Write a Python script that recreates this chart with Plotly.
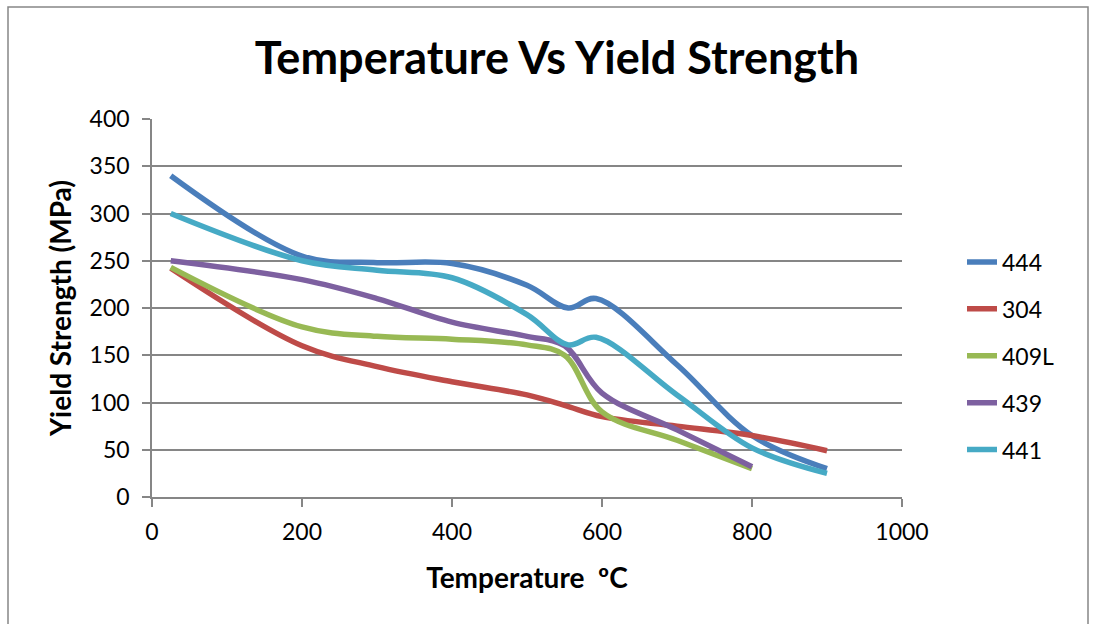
import plotly.graph_objects as go

# ---- data ----
t_444 = [25, 200, 300, 400, 500, 555, 592, 700, 800, 900]
v_444 = [340, 255, 248, 247, 224, 200, 210, 140, 65, 30]

t_304 = [25, 200, 300, 400, 500, 550, 600, 700, 800, 900]
v_304 = [242, 160, 138, 122, 108, 97, 85, 75, 65, 49]

t_409L = [25, 200, 300, 400, 500, 550, 600, 700, 800]
v_409L = [243, 180, 170, 167, 161, 150, 90, 60, 30]

t_439 = [25, 200, 300, 400, 500, 550, 600, 700, 800]
v_439 = [250, 230, 210, 185, 170, 160, 110, 71, 32]

t_441 = [25, 200, 300, 400, 500, 555, 592, 700, 800, 900]
v_441 = [300, 250, 240, 232, 193, 161, 169, 108, 52, 25]

series = [
    ("444", t_444, v_444, "#4A7EBB"),
    ("304", t_304, v_304, "#BE4B48"),
    ("409L", t_409L, v_409L, "#98B954"),
    ("439", t_439, v_439, "#7D60A0"),
    ("441", t_441, v_441, "#46AAC5"),
]

x_ticks = [0, 200, 400, 600, 800, 1000]
y_ticks = [0, 50, 100, 150, 200, 250, 300, 350, 400]

FONT = "Lato"
W, H = 1093, 624
L, R, T, B = 152, 191, 119, 127
pw, ph = W - L - R, H - T - B

fig = go.Figure()
for name, t, v, c in series:
    fig.add_trace(go.Scatter(
        x=t, y=v, name=name, mode="lines", legendgroup=name,
        line=dict(color=c, width=5.5, shape="spline", smoothing=1.0),
    ))

def px_x(p):
    return (p - L) / pw

def px_y(p):
    return (H - B - p) / ph

fig.update_layout(
    width=W, height=H,
    margin=dict(l=L, r=R, t=T, b=B),
    paper_bgcolor="white", plot_bgcolor="white",
    font=dict(family=FONT, size=23, color="black"),
    title=dict(text="<b>Temperature Vs Yield Strength</b>",
               font=dict(family=FONT, size=45, color="black"),
               x=px_x(557), xref="paper", xanchor="center",
               y=1 - 58 / H, yref="container", yanchor="middle"),
    xaxis=dict(range=[0, 1000], tickvals=x_ticks, showgrid=False,
               showline=True, linecolor="#868686", linewidth=1.5,
               ticks="outside", ticklen=8, tickcolor="#868686", tickwidth=1.5,
               zeroline=False, ticklabelstandoff=6,
               tickfont=dict(family=FONT, size=23),
               title=dict(text="<b>Temperature\u00a0\u00a0ºC</b>", standoff=24,
                          font=dict(family=FONT, size=28))),
    yaxis=dict(range=[0, 400], tickvals=y_ticks, showgrid=True,
               gridcolor="#868686", gridwidth=1.5,
               showline=True, linecolor="#868686", linewidth=1.5,
               ticks="outside", ticklen=8, tickcolor="#868686", tickwidth=1.5,
               zeroline=False, ticklabelstandoff=8,
               tickfont=dict(family=FONT, size=23),
               title=dict(text="<b>Yield Strength (MPa)</b>", standoff=10,
                          font=dict(family=FONT, size=28))),
    legend=dict(x=px_x(962), xanchor="left", y=px_y(356), yanchor="middle",
                font=dict(family=FONT, size=23),
                traceorder="grouped", tracegroupgap=14,
                bgcolor="rgba(0,0,0,0)"),
    shapes=[dict(type="rect", xref="paper", yref="paper",
                 x0=px_x(8), x1=px_x(1088), y0=px_y(640), y1=px_y(7),
                 line=dict(color="#868686", width=1.5), fillcolor="rgba(0,0,0,0)",
                 layer="below")],
)

fig.write_html("out.html", config={"displayModeBar": False},
               post_script="document.body.style.margin='0';document.body.style.padding='0';")
